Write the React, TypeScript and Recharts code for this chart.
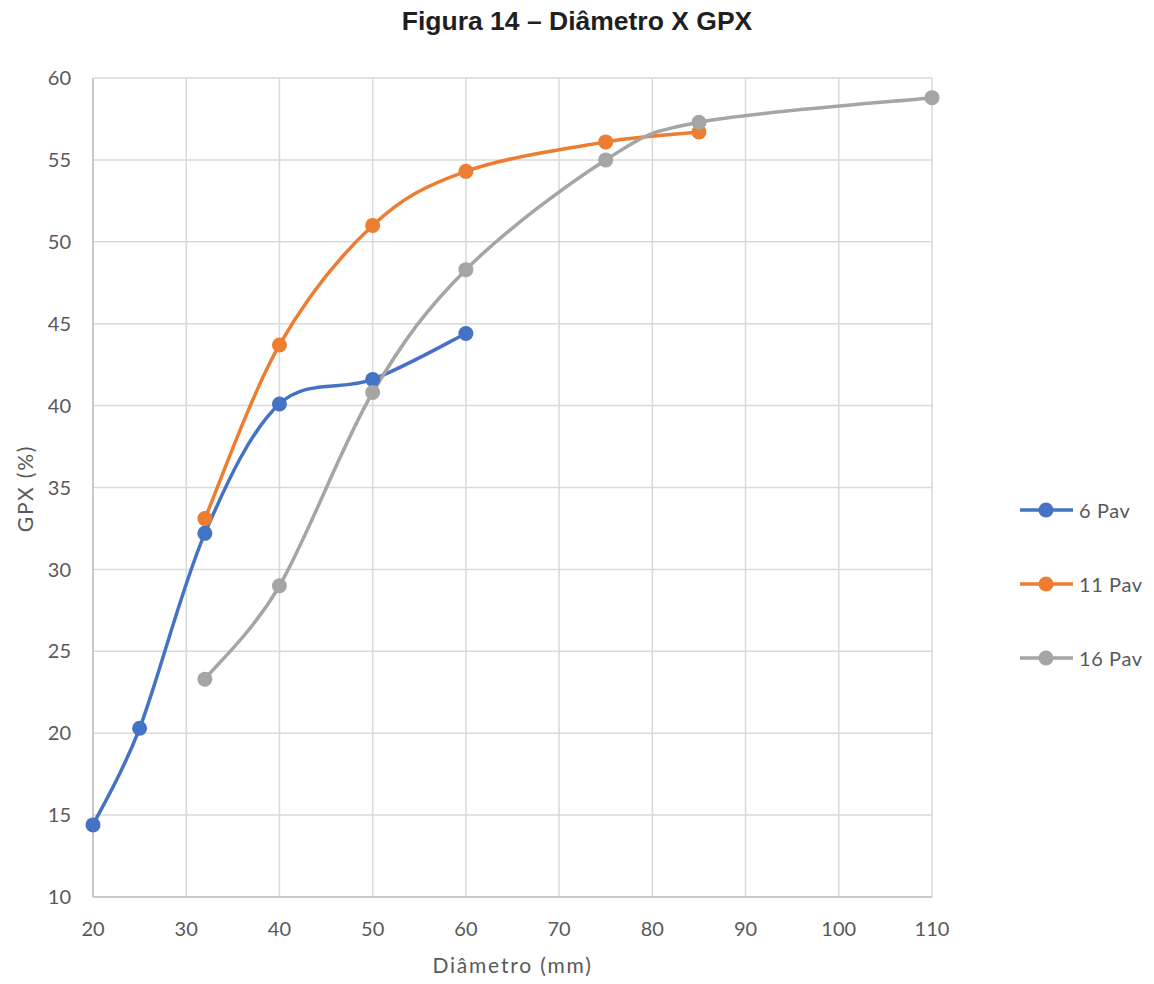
import React from 'react';
import { LineChart, Line, XAxis, YAxis, CartesianGrid, Legend } from 'recharts';

// Diâmetro (mm) x GPX (%) for each building height
const diam6 = [20, 25, 32, 40, 50, 60];
const gpx6 = [14.4, 20.3, 32.2, 40.1, 41.6, 44.4];

const diam11 = [32, 40, 50, 60, 75, 85];
const gpx11 = [33.1, 43.7, 51.0, 54.3, 56.1, 56.7];

const diam16 = [32, 40, 50, 60, 75, 85, 110];
const gpx16 = [23.3, 29.0, 40.8, 48.3, 55.0, 57.3, 58.8];

const xTicks = [20, 30, 40, 50, 60, 70, 80, 90, 100, 110];
const yTicks = [10, 15, 20, 25, 30, 35, 40, 45, 50, 55, 60];

const seriesNames = ['6 Pav', '11 Pav', '16 Pav'];
const seriesColors = ['#4472C4', '#ED7D31', '#A5A5A5'];

const toPoints = (xs: number[], ys: number[]) => xs.map((x, i) => ({ x, y: ys[i] }));
const series = [
  toPoints(diam6, gpx6),
  toPoints(diam11, gpx11),
  toPoints(diam16, gpx16),
];

const FONT = 'Lato, "Open Sans", sans-serif';
const TEXT = '#595959';

// Smoothed line in the style of spreadsheet charts: Catmull-Rom segments as cubic Béziers
function smoothCurve(context: any) {
  let pts: [number, number][] = [];
  return {
    areaStart() {},
    areaEnd() {},
    lineStart() {
      pts = [];
    },
    lineEnd() {
      const n = pts.length;
      if (!n) return;
      context.moveTo(pts[0][0], pts[0][1]);
      for (let i = 0; i < n - 1; i++) {
        const p0 = pts[i - 1] || pts[i];
        const p1 = pts[i];
        const p2 = pts[i + 1];
        const p3 = pts[i + 2] || p2;
        context.bezierCurveTo(
          p1[0] + (p2[0] - p0[0]) / 6,
          p1[1] + (p2[1] - p0[1]) / 6,
          p2[0] - (p3[0] - p1[0]) / 6,
          p2[1] - (p3[1] - p1[1]) / 6,
          p2[0],
          p2[1]
        );
      }
    },
    point(x: number, y: number) {
      pts.push([+x, +y]);
    },
  };
}

// Legend entries in series order: line segment with a marker, then the name
const renderLegend = () => (
  <div style={{ fontFamily: FONT, fontSize: 20, color: TEXT, letterSpacing: 0.6 }}>
    {seriesNames.map((name, i) => (
      <div key={name} style={{ display: 'flex', alignItems: 'center', height: 74 }}>
        <svg width={56} height={20} style={{ display: 'block' }}>
          <line x1={2} y1={10} x2={55} y2={10} stroke={seriesColors[i]} strokeWidth={3.5} />
          <circle cx={28} cy={10} r={7.5} fill={seriesColors[i]} />
        </svg>
        <span style={{ marginLeft: 5, lineHeight: '20px' }}>{name}</span>
      </div>
    ))}
  </div>
);

export default function App() {
  return (
    <div style={{ position: 'absolute', left: 0, top: 0, width: 1154, height: 984, background: '#fff' }}>
      <div
        style={{
          position: 'absolute',
          left: 0,
          top: 4,
          width: 1154,
          textAlign: 'center',
          fontFamily: '"Liberation Sans", Arial, sans-serif',
          fontWeight: 'bold',
          fontSize: 26.5,
          lineHeight: '34px',
          color: '#1f1f1f',
        }}
      >
        Figura 14 – Diâmetro X GPX
      </div>
      <LineChart width={1154} height={984} margin={{ top: 78, right: 222, bottom: 0, left: 0 }}>
        <CartesianGrid stroke="#d9d9d9" strokeWidth={1.5} />
        <XAxis
          type="number"
          dataKey="x"
          domain={[20, 110]}
          ticks={xTicks}
          allowDuplicatedCategory={false}
          height={87}
          tickSize={0}
          tickMargin={25}
          axisLine={{ stroke: '#bfbfbf', strokeWidth: 1.5 }}
          tick={{ fill: TEXT, fontSize: 20, fontFamily: FONT }}
          label={{
            content: (p: any) => {
              const vb = p.viewBox;
              return (
                <text
                  x={vb.x + vb.width / 2}
                  y={973}
                  textAnchor="middle"
                  fill={TEXT}
                  fontSize={21}
                  fontFamily={FONT}
                  letterSpacing={1.8}
                >
                  Diâmetro (mm)
                </text>
              );
            },
          }}
        />
        <YAxis
          type="number"
          domain={[10, 60]}
          ticks={yTicks}
          width={93}
          tickSize={0}
          tickMargin={22}
          axisLine={{ stroke: '#bfbfbf', strokeWidth: 1.5 }}
          tick={{ fill: TEXT, fontSize: 20, fontFamily: FONT }}
          label={{
            content: (p: any) => {
              const vb = p.viewBox;
              const cy = vb.y + vb.height / 2 + 1;
              return (
                <text
                  x={33}
                  y={cy}
                  transform={`rotate(-90 33 ${cy})`}
                  textAnchor="middle"
                  fill={TEXT}
                  fontSize={21}
                  fontFamily={FONT}
                  letterSpacing={1.8}
                >
                  GPX (%)
                </text>
              );
            },
          }}
        />
        <Legend
          layout="vertical"
          align="center"
          verticalAlign="middle"
          content={renderLegend}
          wrapperStyle={{ left: 1018, top: 473, width: 136 }}
        />
        {series.map((data, i) => (
          <Line
            key={seriesNames[i]}
            data={data}
            dataKey="y"
            name={seriesNames[i]}
            type={smoothCurve as any}
            stroke={seriesColors[i]}
            strokeWidth={3.5}
            dot={{ r: 7.5, fill: seriesColors[i], stroke: seriesColors[i], strokeWidth: 0 }}
            activeDot={false}
            isAnimationActive={false}
          />
        ))}
      </LineChart>
    </div>
  );
}
